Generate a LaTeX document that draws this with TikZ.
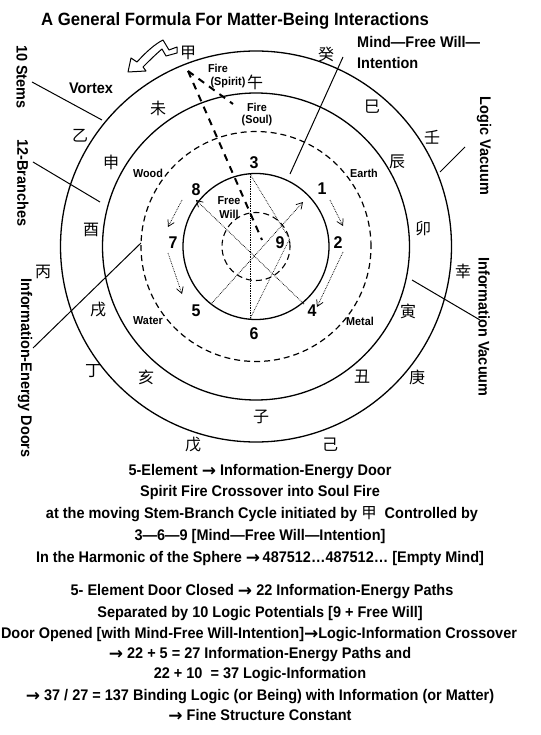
\documentclass[tikz,border=0pt]{standalone}
\usepackage{fontspec}
\setmainfont{Liberation Sans}[FakeStretch=0.94]
\newfontfamily\cjk{Noto Sans CJK SC}
\newfontfamily\arrowfont{DejaVu Sans}
\usetikzlibrary{arrows.meta}
\newcommand\myarrow{\raisebox{-0.6pt}{\arrowfont\bfseries\fontsize{17}{18}\selectfont →}}
\begin{document}
\begin{tikzpicture}[x=1pt,y=-1pt,
  ring/.style={line width=1.3pt},
  dashring/.style={line width=1.2pt, dash pattern=on 6pt off 4pt},
  leader/.style={line width=1pt},
  body/.style={font=\bfseries\fontsize{15.4}{18}\selectfont, inner sep=0pt, anchor=base},
  vlabel/.style={font=\bfseries\fontsize{15.4}{18}\selectfont, inner sep=0pt, rotate=-90},
  han/.style={font=\cjk\fontsize{16}{16}\selectfont, inner sep=0pt},
  elem/.style={font=\bfseries\fontsize{11.5}{14}\selectfont, inner sep=0pt, align=center},
  num/.style={font=\bfseries\fontsize{17}{17}\selectfont, inner sep=0pt},
  fine/.style={line width=0.7pt, densely dotted},
  cyc/.style={line width=0.75pt, densely dotted, -{Straight Barb[length=6pt,width=7pt]}},
  jiadash/.style={line width=2pt, dash pattern=on 7pt off 6pt},
]
\useasboundingbox (0,0) rectangle (540,735);
\fill[white] (0,0) rectangle (540,735);

% centre and rings
\coordinate (O) at (256,246.5);
\draw[ring] (O) circle[radius=195.5pt];
\draw[ring] (O) circle[radius=153.5pt];
\draw[dashring] (O) circle[radius=115pt];
\draw[ring] (O) circle[radius=73pt];
\draw[dashring, line width=1.1pt] (O) circle[radius=34pt];

% title
\node[body, font=\bfseries\fontsize{17.8}{20}\selectfont] (title) at (235,26) {A General Formula For Matter-Being Interactions};

% stems
\node[han] (jia) at (188,53) {甲};
\node[han] (yi) at (80,136) {乙};
\node[han] (bing) at (43,272) {丙};
\node[han] (ding) at (93,371) {丁};
\node[han] (wu) at (193,445) {戊};
\node[han] (ji) at (330,445) {己};
\node[han] (geng) at (417,377) {庚};
\node[han] (xin) at (463,271) {幸};
\node[han] (ren) at (432,137) {壬};
\node[han] (gui) at (326,54) {癸};

% branches
\node[han] (wuh) at (255,82) {午};
\node[han] (wei) at (158,108) {未};
\node[han] (shen) at (111,162) {申};
\node[han] (you) at (91,230) {酉};
\node[han] (xu) at (98,310) {戌};
\node[han] (hai) at (146,377) {亥};
\node[han] (zi) at (261,417) {子};
\node[han] (chou) at (362,377) {丑};
\node[han] (yin) at (408,311) {寅};
\node[han] (mao) at (423,229) {卯};
\node[han] (chen) at (397,162) {辰};
\node[han] (si) at (372,107) {巳};

% fire labels and elements
\node[elem] (fire1) at (218,68) {Fire};
\node[elem] (spirit) at (228,83) {(Spirit)};
\node[elem] (fire2) at (257,107) {Fire};
\node[elem] (soul) at (257,121) {(Soul)};
\node[elem] (wood) at (148,173) {Wood};
\node[elem] (earth) at (364,173) {Earth};
\node[elem] (water) at (148,321) {Water};
\node[elem] (metal) at (360,321) {Metal};
\node[elem] (free) at (229,208) {Free\\Will};

% numbers
\node[num] (n3) at (254,163) {3};
\node[num] (n8) at (196,190) {8};
\node[num] (n1) at (322,189) {1};
\node[num] (n7) at (173,243) {7};
\node[num] (n2) at (338,243) {2};
\node[num] (n9) at (280,243) {9};
\node[num] (n5) at (196,311) {5};
\node[num] (n4) at (312,311) {4};
\node[num] (n6) at (254,334) {6};

% points on the inner circle
\coordinate (p3) at (250,174);
\coordinate (p6) at (250,319);
\coordinate (p9) at (289.5,239);
\coordinate (p8) at (196,200);
\coordinate (p4) at (304,304);
\coordinate (p5) at (212,303);
\coordinate (p1) at (303,202);
\draw[fine] (p3) -- (p6);
\draw[fine] (p3) -- (p9);
\draw[fine] (p6) -- (p9);
\draw[cyc] (p4) -- (p8);
\draw[cyc] (p5) -- (p1);

% cycle arrows outside the inner circle
\coordinate (a1s) at (330,200); \coordinate (a1e) at (343,226);
\coordinate (a2s) at (343,252); \coordinate (a2e) at (317,307);
\coordinate (a3s) at (182,200); \coordinate (a3e) at (168,227);
\coordinate (a4s) at (168,253); \coordinate (a4e) at (182,294);
\draw[cyc] (a1s) -- (a1e);
\draw[cyc] (a2s) -- (a2e);
\draw[cyc] (a3s) -- (a3e);
\draw[cyc] (a4s) -- (a4e);

% thick dashed lines from jia
\coordinate (jb) at (188,71);
\coordinate (jend) at (262,240);
\coordinate (send) at (233,104);
\draw[jiadash] (jb) -- (jend);
\draw[jiadash] (jb) -- (send);

% vortex
\node[body, anchor=center] (vortex) at (91,88) {Vortex};
\draw[line width=1pt, fill=white, line join=round]
  (128,72) -- (131,58) -- (137,62) .. controls (146,52) and (155,44) .. (163,40)
  -- (169,50) -- (177,47) -- (177,53) -- (166,56) -- (162,49)
  .. controls (155,55) and (149,61) .. (143,67) -- (146,71) -- cycle;

% side labels and leaders
\node[vlabel] (stems) at (22,77) {10 Stems};
\node[vlabel] (branches) at (23,183) {12-Branches};
\node[vlabel] (doors) at (25,368) {Information-Energy Doors};
\node[vlabel] (logic) at (484,146) {Logic Vacuum};
\node[vlabel] (infovac) at (484,327) {Information Vacuum};
\node[body, anchor=base west] (mind1) at (357,47.5) {Mind—Free Will—};
\node[body, anchor=base west] (mind2) at (357,68.5) {Intention};

\coordinate (ls1) at (32,82);   \coordinate (le1) at (102,120);
\coordinate (ls2) at (33,162);  \coordinate (le2) at (100,202);
\coordinate (ls3) at (33,348);  \coordinate (le3) at (141,243);
\coordinate (ls4) at (465,147); \coordinate (le4) at (440,172);
\coordinate (ls5) at (480,320); \coordinate (le5) at (412,280);
\coordinate (ls6) at (343,57);  \coordinate (le6) at (290,174);
\draw[leader] (ls1) -- (le1);
\draw[leader] (ls2) -- (le2);
\draw[leader] (ls3) -- (le3);
\draw[leader] (ls4) -- (le4);
\draw[leader] (ls5) -- (le5);
\draw[leader] (ls6) -- (le6);

% text block
\node[body] (t1) at (260,475.5) {5-Element \myarrow{} Information-Energy Door};
\node[body] (t2) at (260,496.5) {Spirit Fire Crossover into Soul Fire};
\node[body] (t3) at (262,518.5) {at the moving Stem-Branch Cycle initiated by {\cjk\mdseries 甲}\ \ Controlled by};
\node[body] (t4) at (260,540.5) {3—6—9 [Mind—Free Will—Intention]};
\node[body] (t5) at (260,562.5) {In the Harmonic of the Sphere \myarrow\,487512…487512… [Empty Mind]};
\node[body] (t6) at (262,595.5) {5- Element Door Closed \myarrow{} 22 Information-Energy Paths};
\node[body] (t7) at (260,617.5) {Separated by 10 Logic Potentials [9 + Free Will]};
\node[body] (t8) at (259,638.5) {Door Opened [with Mind-Free Will-Intention]\myarrow Logic-Information Crossover};
\node[body] (t9) at (260,658.5) {\myarrow{} 22 + 5 = 27 Information-Energy Paths and};
\node[body] (t10) at (260,678.5) {22 + 10\ \ = 37 Logic-Information};
\node[body] (t11) at (260,700.5) {\myarrow{} 37 / 27 = 137 Binding Logic (or Being) with Information (or Matter)};
\node[body] (t12) at (260,720.5) {\myarrow{} Fine Structure Constant};
\end{tikzpicture}
\end{document}
